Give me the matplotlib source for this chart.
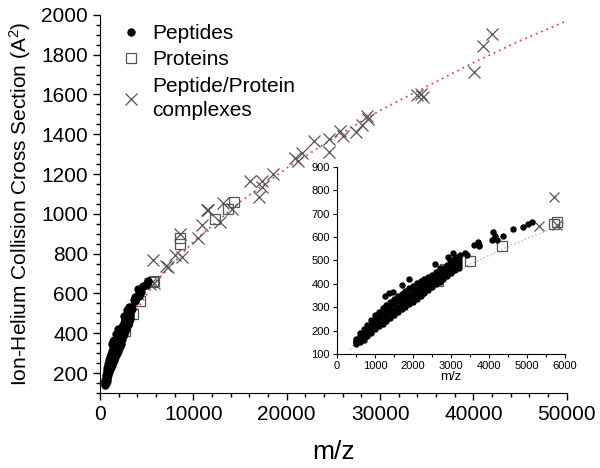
import matplotlib.pyplot as plt
import numpy as np

plt.rcParams['font.family'] = ['Liberation Sans', 'DejaVu Sans']
plt.rcParams['mathtext.default'] = 'regular'

# peptides: dense band read column by column, plus scattered points
pep_mz = [500]*4 + [600]*4 + [700]*4 + [800]*4 + [900]*4 + [1000]*4 + [1100]*4 + \
    [1200]*4 + [1300]*4 + [1400]*4 + [1500]*4 + [1600]*4 + [1700]*4 + [1800]*4 + \
    [1900]*4 + [2000]*4 + [2100]*4 + [2200]*4 + [2300]*4 + [2400]*4 + [2500]*4 + \
    [2600]*4 + [2700]*4 + [2800]*4 + [2900]*4 + [3000]*4 + [3100]*4 + [3200]*4
pep_ccs = [142, 150, 157, 165, 152, 164, 176, 188, 162, 176, 191, 205,
           175, 192, 208, 225, 190, 208, 227, 245, 205, 225, 245, 265,
           218, 239, 259, 280, 230, 252, 273, 295, 243, 265, 288, 310,
           256, 278, 300, 322, 268, 290, 313, 335, 280, 302, 325, 347,
           291, 313, 336, 358, 302, 325, 347, 370, 313, 336, 358, 381,
           324, 347, 369, 392, 336, 358, 380, 402, 348, 369, 391, 412,
           360, 380, 401, 421, 372, 391, 411, 430, 385, 403, 422, 440,
           398, 415, 433, 450, 410, 427, 443, 460, 422, 438, 454, 470,
           435, 450, 465, 480, 448, 462, 476, 490, 460, 472, 485, 497,
           470, 482, 493, 505]
pep_out_mz = [1260, 1380, 1480, 1700, 1890, 2580, 2710, 2930, 2970, 3060, 3060,
              3100, 3150, 3190, 3230, 3370, 3410, 3610, 3720, 3740, 3740, 4070,
              4110, 4160, 4200, 4370, 4620, 4900, 5030, 5120]
pep_out_ccs = [346, 360, 367, 396, 420, 486, 470, 517, 503, 531, 486,
               517, 496, 517, 524, 531, 524, 567, 581, 567, 560, 589,
               624, 603, 586, 606, 636, 643, 655, 664]

# proteins
prot_mz = [2650, 2840, 3500, 4330, 5710, 5800, 8600, 8600, 12300, 13740, 14380]
prot_ccs = [413, 464, 496, 560, 657, 665, 850, 880, 975, 1025, 1062]

# peptide/protein complexes
cplx_mz = [5310, 5700, 5780, 7030, 7310, 8030, 8750, 8570, 10500, 10890,
           11420, 11600, 12850, 13200, 14100, 16060, 17060, 17310, 17310, 18560,
           20880, 21230, 21590, 22950, 24550, 24550, 25700, 26050, 27410, 28010,
           28550, 28660, 33910, 34340, 34620, 40080, 40970, 41940]
cplx_ccs = [646, 770, 652, 738, 733, 792, 783, 900, 880, 942,
            1017, 1017, 958, 1055, 1025, 1167, 1083, 1133, 1167, 1200,
            1283, 1267, 1308, 1365, 1378, 1312, 1417, 1392, 1412, 1445,
            1492, 1475, 1597, 1603, 1588, 1712, 1842, 1903]

# fitted curve
fit_mz = [350, 600, 1000, 2000, 3000, 4500, 6000, 10000, 15000, 20000,
          25000, 30000, 35000, 40000, 45000, 50000]
fit_ccs = [120, 190, 255, 365, 445, 560, 660, 860, 1060, 1230,
           1380, 1520, 1640, 1760, 1870, 1970]

grey = '#555555'
fitred = '#d84a4a'

fig = plt.figure(figsize=(6, 4.68), dpi=100)
ax = fig.add_axes([0.1667, 0.1603, 0.778, 0.808])

ax.plot(fit_mz, fit_ccs, linestyle=(0, (1, 2.2)), color=fitred, lw=1.3, zorder=1)
ax.plot(pep_mz + pep_out_mz, pep_ccs + pep_out_ccs, 'o', ms=5, color='black',
        mec='black', label='Peptides', zorder=3)
ax.plot(prot_mz, prot_ccs, 's', ms=7, mfc='none', mec=grey, mew=0.9,
        label='Proteins', zorder=2)
ax.plot(cplx_mz, cplx_ccs, 'x', ms=8, color=grey, mew=0.9,
        label='Peptide/Protein\ncomplexes', zorder=2)

ax.set_xlim(0, 50000)
ax.set_ylim(100, 2000)
ax.set_xticks(np.arange(0, 50001, 10000))
ax.set_xticks(np.arange(0, 50001, 2000), minor=True)
ax.set_yticks(np.arange(200, 2001, 200))
ax.set_yticks(np.arange(100, 2001, 50), minor=True)
for s in ['top', 'right']:
    ax.spines[s].set_visible(False)
ax.tick_params(which='major', direction='out', length=5, width=1, labelsize=15)
ax.tick_params(which='minor', direction='out', length=3, width=1)
ax.set_xlabel('m/z', fontsize=19, labelpad=12)
ax.set_ylabel('Ion-Helium Collision Cross Section (A$^{2}$)', fontsize=15, labelpad=6)

leg = ax.legend(loc='upper left', bbox_to_anchor=(0.0, 1.025), frameon=False,
                fontsize=15, handletextpad=0.4, labelspacing=0.35,
                handlelength=1.2, markerscale=1.0)
for t in leg.get_texts():
    t.set_linespacing(1.35)

# inset
ins = fig.add_axes([0.5617, 0.2436, 0.38, 0.3996])
ins.plot(fit_mz, fit_ccs, linestyle=(0, (1, 2)), color='#e89090', lw=0.9, zorder=1)
ins.plot(pep_mz + pep_out_mz, pep_ccs + pep_out_ccs, 'o', ms=3.6, color='black',
         zorder=3)
ins.plot(prot_mz, prot_ccs, 's', ms=7, mfc='none', mec=grey, mew=0.9, zorder=2)
ins.plot(cplx_mz, cplx_ccs, 'x', ms=7, color=grey, mew=0.9, zorder=2)
ins.set_xlim(0, 6000)
ins.set_ylim(100, 900)
ins.set_xticks(np.arange(0, 6001, 1000))
ins.set_xticks(np.arange(0, 6001, 500), minor=True)
ins.set_yticks(np.arange(100, 901, 100))
for s in ['top', 'right']:
    ins.spines[s].set_visible(False)
ins.tick_params(which='major', direction='out', length=3, width=0.8, labelsize=8,
                pad=2)
ins.tick_params(which='minor', direction='out', length=2, width=0.8)
ins.set_xlabel('m/z', fontsize=9.5, labelpad=0)

plt.savefig('out.png', dpi=100)
